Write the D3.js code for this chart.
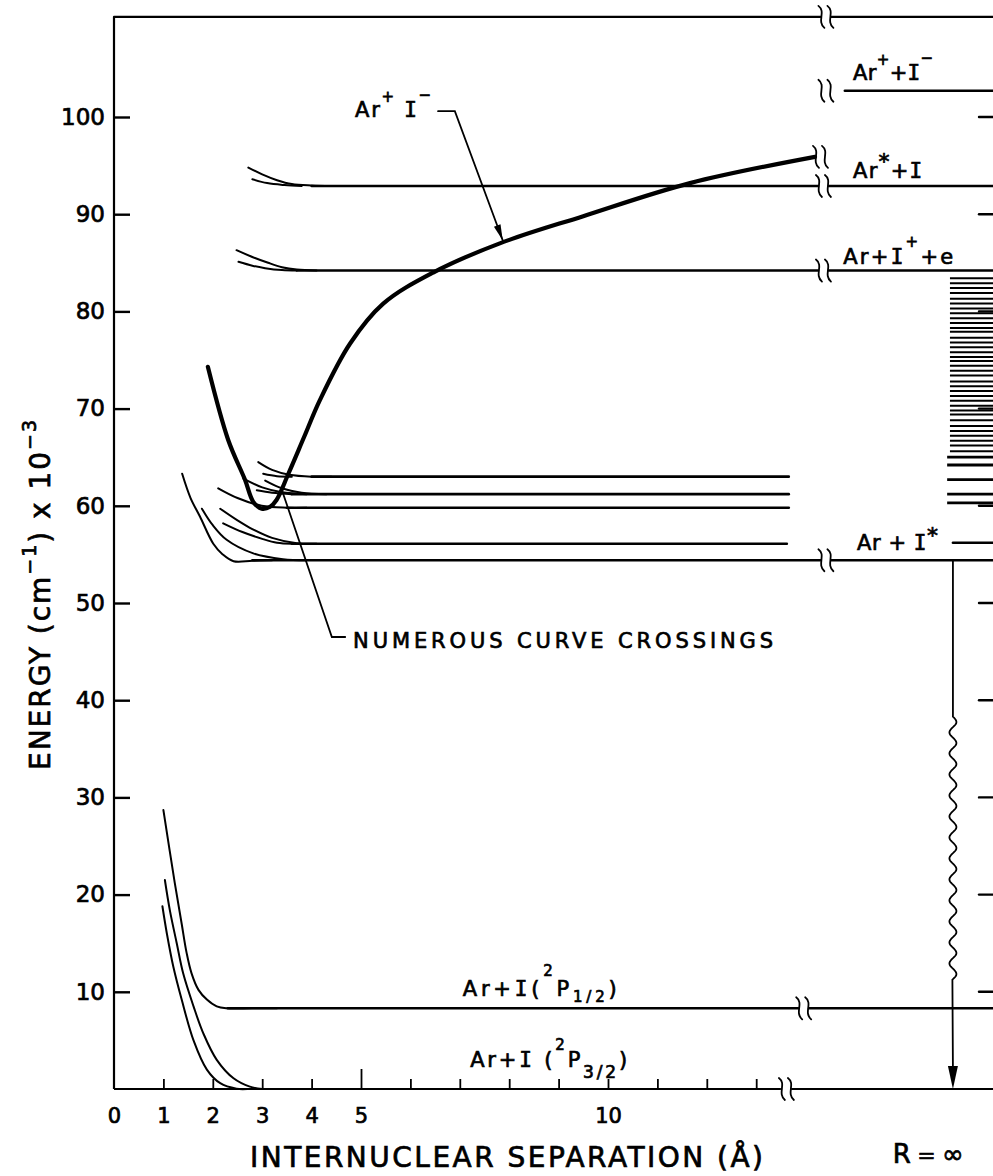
<!DOCTYPE html>
<html>
<head>
<meta charset="utf-8">
<script src="https://cdn.jsdelivr.net/npm/d3@7"></script>
<style>
body { margin: 0; background: #fff; }
svg { display: block; }
text { font-family: "DejaVu Sans", sans-serif; fill: #000; stroke: #000; stroke-width: 0.7px; }
</style>
</head>
<body>
<div id="chart"></div>
<script>
// values: R in angstrom, E in cm-1 x 10^-3

// Ar+ I- ion pair curve (thick)
var ionPair = [[1.90,74.3],[2.31,66.8],[2.65,62.7],[2.82,60.4],[2.99,59.7],[3.16,59.9],[3.29,60.6],
  [3.53,63.3],[3.85,67.1],[4.17,70.9],[4.78,76.7],[5.45,80.8],[6.46,84.0],[7.81,87.0],[9.5,89.8],
  [11.66,93.2],[14.19,95.9]];

// repulsive walls running into the Ar*+I and Ar+I+ +e levels
var walls93 = [
  [[2.72,94.8],[3.0,94.1],[3.3,93.5],[3.6,93.1],[4.0,92.95],[4.4,92.9]],
  [[2.80,93.6],[3.1,93.2],[3.45,93.0],[3.8,92.9]]
];
var walls84 = [
  [[2.48,86.3],[2.8,85.6],[3.12,85.0],[3.4,84.55],[3.7,84.3],[4.1,84.2]],
  [[2.52,85.1],[2.8,84.7],[3.06,84.45],[3.4,84.25],[3.7,84.2]]
];

// curves of the Ar + I* group
var clusterCurves = [
  [[2.92,64.5],[3.2,63.7],[3.55,63.2],[4.0,63.0],[4.4,63.0]],
  [[3.02,63.3],[3.3,63.05],[3.6,63.0]],
  [[3.06,62.6],[3.4,61.8],[3.8,61.35],[4.3,61.2]],
  [[2.89,61.6],[3.2,61.35],[3.6,61.2]],
  [[2.62,62.8],[3.0,61.9],[3.4,61.4],[3.9,61.2]],
  [[2.11,61.8],[2.5,60.8],[2.99,60.0],[3.5,59.8],[3.9,59.8]],
  [[2.15,59.7],[2.5,58.5],[2.8,57.6],[3.2,56.7],[3.7,56.15],[4.1,56.1]],
  [[2.21,58.2],[2.6,57.3],[3.0,56.6],[3.3,56.2],[3.6,56.1]],
  [[1.38,63.3],[1.55,60.8],[1.74,58.9],[2.01,56.1],[2.2,55.0],[2.42,54.3],[2.8,54.35],[3.2,54.4]],
  [[1.78,59.7],[2.0,58.0],[2.28,56.5],[2.82,55.1],[3.42,54.5],[3.9,54.4]]
];

// ground state curves
var lowCurves = [
  [[1.00,28.7],[1.23,21.2],[1.37,17.0],[1.47,14.0],[1.57,11.9],[1.71,10.2],[1.88,9.2],[2.08,8.5],[2.28,8.3],[2.8,8.3],[3.3,8.3]],
  [[1.03,21.5],[1.13,18.4],[1.27,15.0],[1.40,11.9],[1.61,8.5],[1.81,5.7],[2.08,3.0],[2.42,1.1],[2.75,0.24],[3.0,0.0]],
  [[0.98,18.8],[1.07,16.0],[1.20,12.6],[1.37,9.2],[1.61,5.0],[1.88,2.0],[2.15,0.6],[2.48,0.03],[2.7,0.0]]
];

// flat levels ending before the break: [E, R start, R end]
var shortLevels = [[63.0,4.0,13.66],[61.2,3.6,13.66],[59.8,3.5,13.66],[56.1,3.6,13.62]];

// levels carried across the axis break to R = infinity: [E, R start, R of break]
var brokenLevels = [[110.3,0,14.3],[92.9,4.0,14.25],[84.2,3.7,14.25],[54.4,2.8,14.3],[8.3,2.3,13.85]];
var axisBreakR = 13.5;
var ionBreakR = 14.19;

// atomic levels at R = infinity
var ionLimitE = 102.7;       // Ar+ + I-
var excitedIE = 56.2;        // short level beside Ar + I*
var seriesLevels = [83.4,82.9,82.4,81.9,81.3,80.8,80.3,79.8,79.3,78.8,78.3,77.9,77.3,76.8,76.3,75.8,
  75.3,74.9,74.4,73.9,73.4,72.8,72.3,71.8,71.3,70.8,70.3,69.8,69.4,68.8,68.2,67.7,67.2,66.7,66.2,65.6];
var discreteLevels = [65.0,64.2,62.7,61.2,60.3];

// emission arrow Ar + I* -> ground, wavy part between these energies
var arrowTopE = 54.4, waveTopE = 38.3, waveBottomE = 11.2;

var yTicks = [10,20,30,40,50,60,70,80,90,100];
var xTicks = [0,1,2,3,4,5,6,7,8,9,10,11,12,13];
var xLabels = [0,1,2,3,4,5,10];

var W = 993, H = 1176;
var svg = d3.select('#chart').append('svg').attr('width', W).attr('height', H);

var x = d3.scaleLinear().domain([0, 10]).range([114, 608]);
var y = d3.scaleLinear().domain([0, 100]).range([1089, 117]);
var xInf = d3.scaleLinear().domain([0, 1]).range([830, 995]);
var topE = 110.3;

var line = d3.line().x(function(d){ return x(d[0]); }).y(function(d){ return y(d[1]); })
  .curve(d3.curveCatmullRom.alpha(0.5));

var g = svg.append('g').attr('fill', 'none').attr('stroke', '#000').attr('stroke-linecap', 'round');

function seg(x1, y1, x2, y2, w){
  g.append('line').attr('x1', x1).attr('y1', y1).attr('x2', x2).attr('y2', y2).attr('stroke-width', w);
}
function breakMark(bx, by){
  [1, 10].forEach(function(o){
    var cx = bx + o;
    g.append('path').attr('stroke-width', 1.8)
      .attr('d', 'M' + (cx - 3) + ',' + (by - 11) + ' C' + (cx + 5) + ',' + (by - 5) + ' ' + (cx - 5) + ',' + (by + 4) + ' ' + (cx + 3) + ',' + (by + 11));
  });
}

// left axis
var yAxis = d3.axisLeft(y).tickValues(yTicks).tickSizeInner(-16).tickSizeOuter(0).tickPadding(9);
var ya = svg.append('g').attr('transform', 'translate(' + x(0) + ',0)').call(yAxis);
ya.select('.domain').attr('d', 'M0,' + y(0) + 'V' + y(topE)).attr('stroke-width', 2.2);
ya.selectAll('.tick line').attr('stroke-width', 2.4);
ya.selectAll('.tick text').attr('font-size', 23).attr('font-family', '"DejaVu Sans", sans-serif');

// bottom axis, up to the break
var xAxis = d3.axisBottom(x).tickValues(xTicks).tickSizeOuter(0).tickPadding(13)
  .tickFormat(function(d){ return xLabels.indexOf(d) >= 0 ? d : ''; });
var xa = svg.append('g').attr('transform', 'translate(0,' + y(0) + ')').call(xAxis);
xa.select('.domain').attr('d', 'M' + x(0) + ',0H' + x(axisBreakR)).attr('stroke-width', 2.2);
xa.selectAll('.tick line').attr('stroke-width', 1.8)
  .attr('y2', function(d){ return d === 0 ? 0 : (d === 5 ? -20 : -10); });
xa.selectAll('.tick text').attr('font-size', 21).attr('font-family', '"DejaVu Sans", sans-serif');
breakMark(x(axisBreakR), y(0));
seg(x(axisBreakR) + 11, y(0), xInf(1), y(0), 2.2);

// right axis ticks (axis itself is just outside the frame)
yTicks.forEach(function(t){ seg(xInf(1) - 16, y(t), xInf(1), y(t), 2.4); });

// flat levels with breaks
brokenLevels.forEach(function(l){
  var bx = x(l[2]);
  seg(x(l[1]), y(l[0]), bx, y(l[0]), l[0] > 100 ? 2.2 : 2.5);
  breakMark(bx, y(l[0]));
  seg(bx + 11, y(l[0]), xInf(1), y(l[0]), l[0] > 100 ? 2.2 : 2.5);
});
shortLevels.forEach(function(l){ seg(x(l[1]), y(l[0]), x(l[2]), y(l[0]), 2.6); });

// potential curves
walls93.concat(walls84, clusterCurves, lowCurves).forEach(function(c){
  g.append('path').attr('d', line(c)).attr('stroke-width', 2);
});
g.append('path').attr('d', line(ionPair)).attr('stroke-width', 4.2);
breakMark(x(ionBreakR), y(95.9));

// levels at infinity
breakMark(x(14.3), y(ionLimitE));
seg(xInf(0.09), y(ionLimitE), xInf(1), y(ionLimitE), 2.6);
seg(xInf(0.745), y(excitedIE), xInf(1), y(excitedIE), 2.6);
g.selectAll('.series').data(seriesLevels).enter().append('line').attr('class', 'series')
  .attr('x1', xInf(0.727)).attr('x2', xInf(1))
  .attr('y1', function(d){ return y(d); }).attr('y2', function(d){ return y(d); })
  .attr('stroke-width', 2).attr('stroke-linecap', 'butt');
g.selectAll('.disc').data(discreteLevels).enter().append('line').attr('class', 'disc')
  .attr('x1', xInf(0.71)).attr('x2', xInf(1))
  .attr('y1', function(d){ return y(d); }).attr('y2', function(d){ return y(d); })
  .attr('stroke-width', 2.8).attr('stroke-linecap', 'butt');

// wavy emission arrow
var ax = xInf(0.745);
var pts = [[ax, y(arrowTopE)]];
for (var yy = y(waveTopE); yy <= y(waveBottomE); yy += 1) {
  pts.push([ax + 3.5 * Math.sin((yy - y(waveTopE)) / 21 * 2 * Math.PI), yy]);
}
pts.push([ax, y(0) - 20]);
g.append('path').attr('d', d3.line().curve(d3.curveLinear)(pts)).attr('stroke-width', 1.8);
svg.append('path').attr('fill', '#000')
  .attr('d', 'M' + ax + ',' + y(0) + 'L' + (ax - 5) + ',' + (y(0) - 23) + 'L' + (ax + 5) + ',' + (y(0) - 23) + 'Z');

// leader for Ar+ I-
var tip = [x(7.87), y(87.3)], corner = [x(6.90), y(100.6)];
g.append('path').attr('stroke-width', 1.8)
  .attr('d', 'M' + x(6.56) + ',' + corner[1] + 'H' + corner[0] + 'L' + tip[0] + ',' + tip[1]);
var ang = Math.atan2(tip[1] - corner[1], tip[0] - corner[0]);
function rot(l, w){ return [tip[0] - l * Math.cos(ang) - w * Math.sin(ang), tip[1] - l * Math.sin(ang) + w * Math.cos(ang)]; }
var a1 = rot(16, 3.5), a2 = rot(16, -3.5);
svg.append('path').attr('fill', '#000')
  .attr('d', 'M' + tip[0] + ',' + tip[1] + 'L' + a1[0] + ',' + a1[1] + 'L' + a2[0] + ',' + a2[1] + 'Z');

// leader for numerous crossings
g.append('path').attr('stroke-width', 1.8)
  .attr('d', 'M' + x(3.40) + ',' + y(61.6) + 'L' + x(4.41) + ',' + y(46.5) + 'H' + x(4.68));

// labels
function label(px, py, parts, len, fs){
  var t = svg.append('text').attr('x', px).attr('y', py).attr('font-size', fs || 21);
  var shift = 0;
  parts.forEach(function(p){
    var s = t.append('tspan').text(p.t);
    var target = p.dy || 0;
    if (target - shift !== 0) s.attr('dy', target - shift);
    shift = target;
    if (p.fs) s.attr('font-size', p.fs);
    if (p.mono) s.attr('font-family', '"DejaVu Sans Mono", monospace');
  });
  if (len) t.attr('textLength', len).attr('lengthAdjust', 'spacing');
  return t;
}

label(x(4.88), y(100.0), [{t:'Ar'},{t:'+',dy:-15,fs:15},{t:' '},{t:'I',mono:true},{t:'\u2212',dy:-17,fs:15}], 76);
label(x(7.06), y(8.3) - 12, [{t:'Ar+'},{t:'I',mono:true},{t:'('},{t:'2',dy:-20,fs:15},{t:'P'},{t:'1/2',dy:6,fs:15},{t:')'}], 154);
label(x(7.21), y(0) - 22, [{t:'Ar+'},{t:'I',mono:true},{t:' ('},{t:'2',dy:-17,fs:15},{t:'P'},{t:'3/2',dy:11,fs:17},{t:')'}], 157);
label(xInf(0.14), y(ionLimitE) - 11, [{t:'Ar'},{t:'+',dy:-15,fs:15},{t:'+'},{t:'I',mono:true},{t:'\u2212',dy:-17,fs:15}], 80);
label(xInf(0.14), y(92.9) - 8, [{t:'Ar'},{t:'*',dy:-9,fs:22},{t:'+'},{t:'I',mono:true}], 69);
label(xInf(0.08), y(84.2) - 7, [{t:'Ar+'},{t:'I',mono:true},{t:'+',dy:-17,fs:15},{t:'+e'}], 110);
label(xInf(0.164), y(54.4) - 10, [{t:'Ar + '},{t:'I',mono:true},{t:'*',dy:-7,fs:22}], 81);
label(x(4.84), y(46.5) + 11, [{t:'NUMEROUS CURVE CROSSINGS'}], 420);

label(250, y(0) + 78, [{t:'INTERNUCLEAR SEPARATION (\u00c5)'}], 513, 28);
label(xInf(0.38), y(0) + 74, [{t:'R'},{t:' = ',fs:22},{t:'\u221e'}], 71, 26);

svg.append('text').attr('transform', 'translate(50,770) rotate(-90)')
  .attr('font-size', 28).attr('textLength', 350).attr('lengthAdjust', 'spacing')
  .call(function(t){
    t.append('tspan').text('ENERGY  (cm');
    t.append('tspan').attr('dy', -14).attr('font-size', 19).text('\u22121');
    t.append('tspan').attr('dy', 14).text(') x 10');
    t.append('tspan').attr('dy', -14).attr('font-size', 19).text('\u22123');
  });
</script>
</body>
</html>
